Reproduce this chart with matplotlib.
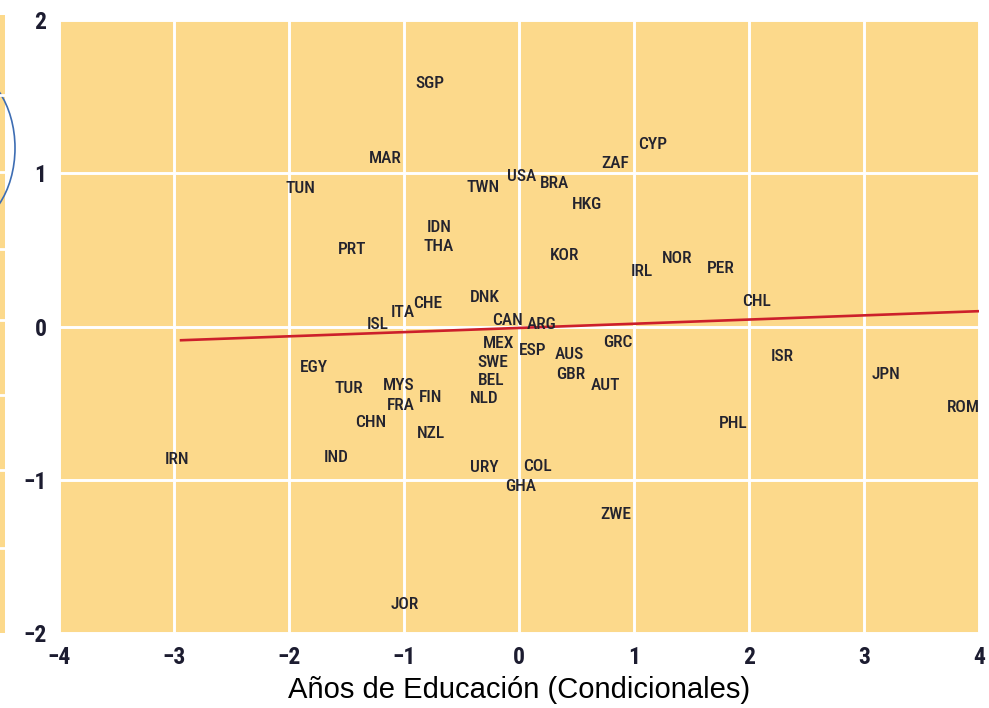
import matplotlib
matplotlib.use("Agg")
import matplotlib.pyplot as plt
from matplotlib.patches import Ellipse, Rectangle

# ---- data -------------------------------------------------------------
countries = ["SGP", "CYP", "MAR", "ZAF", "TUN", "TWN", "USA", "BRA", "HKG", "IDN",
             "THA", "PRT", "KOR", "IRL", "NOR", "PER", "CHL", "DNK", "CHE", "ITA",
             "ISL", "CAN", "ARG", "MEX", "ESP", "AUS", "GRC", "ISR", "EGY", "SWE",
             "BEL", "GBR", "AUT", "JPN", "TUR", "MYS", "FIN", "NLD", "FRA", "ROM",
             "CHN", "PHL", "NZL", "IRN", "IND", "URY", "COL", "GHA", "ZWE", "JOR"]
educ_x = [-0.774, 1.165, -1.165, 0.835, -1.904, -0.313, 0.026, 0.313, 0.591, -0.696,
          -0.696, -1.452, 0.400, 1.070, 1.374, 1.757, 2.061, -0.296, -0.791, -1.009,
          -1.226, -0.104, 0.200, -0.174, 0.122, 0.435, 0.861, 2.287, -1.783, -0.226,
          -0.243, 0.452, 0.748, 3.191, -1.478, -1.043, -0.765, -0.304, -1.026, 3.861,
          -1.287, 1.861, -0.765, -2.974, -1.591, -0.304, 0.157, 0.017, 0.843, -0.991]
growth_y = [1.595, 1.196, 1.105, 1.072, 0.908, 0.915, 0.987, 0.941, 0.804, 0.654,
            0.529, 0.510, 0.471, 0.366, 0.451, 0.386, 0.170, 0.196, 0.157, 0.098,
            0.020, 0.046, 0.026, -0.098, -0.150, -0.170, -0.092, -0.183, -0.255, -0.222,
            -0.340, -0.301, -0.373, -0.301, -0.392, -0.373, -0.451, -0.458, -0.503, -0.516,
            -0.614, -0.621, -0.686, -0.856, -0.843, -0.908, -0.902, -1.033, -1.216, -1.804]
fit_x = [-2.95, 4.0]
fit_y = [-0.09, 0.10]
x_ticks = [-4, -3, -2, -1, 0, 1, 2, 3, 4]
y_ticks = [-2, -1, 0, 1, 2]
x_label = "Años de Educación (Condicionales)"

# ---- figure -----------------------------------------------------------
W, H = 989, 708
fig = plt.figure(figsize=(W / 100, H / 100), dpi=100)
fig.patch.set_facecolor("white")

narrow = ["Roboto Condensed", "Liberation Sans Narrow", "DejaVu Sans"]
yellow = "#FCD98B"
ink = "#23232e"

# decorative remnant of neighbouring panel at left edge (pixel coords)
deco = fig.add_axes([0, 0, 1, 1], zorder=0)
deco.set_xlim(0, W)
deco.set_ylim(H, 0)
deco.axis("off")
deco.add_patch(Rectangle((0, 15), 4.5, 618, facecolor=yellow, edgecolor="none"))
for yy in [95, 172, 249, 320, 395, 470, 548]:
    deco.plot([0, 4.5], [yy, yy], color="white", lw=2)
deco.add_patch(Ellipse((-40, 148), 110, 160, fill=False, edgecolor="#3d6db3", lw=1.2))

ax = fig.add_axes([59 / W, (H - 633) / H, 920 / W, 613 / H], zorder=1)
ax.set_facecolor(yellow)
ax.set_xlim(-4, 4)
ax.set_ylim(-2, 2)
for s in ax.spines.values():
    s.set_visible(False)
ax.set_xticks(x_ticks)
ax.set_yticks(y_ticks)
ax.set_xticklabels([str(t).replace("-", "\u2212") for t in x_ticks])
ax.set_yticklabels([str(t).replace("-", "\u2212") for t in y_ticks])
ax.tick_params(length=0, colors="#1c1c30", labelsize=17, pad=9)
for lab in ax.get_xticklabels() + ax.get_yticklabels():
    lab.set_family(narrow)
    lab.set_fontweight("bold")
ax.grid(True, color="white", lw=2.1)
ax.set_axisbelow(True)

ax.plot(fit_x, fit_y, color="#cc1f2b", lw=1.9, zorder=2, solid_capstyle="butt")

for name, x, y in zip(countries, educ_x, growth_y):
    ax.text(x, y, name, ha="center", va="center_baseline", fontsize=12.5,
            family=narrow, fontweight="medium", color=ink, zorder=3)

fig.text(519 / W, 1 - 690 / H, x_label, ha="center", va="center",
         fontsize=21, family=["Liberation Sans", "DejaVu Sans"], color="black")

fig.savefig("out.png", dpi=100, facecolor="white")
